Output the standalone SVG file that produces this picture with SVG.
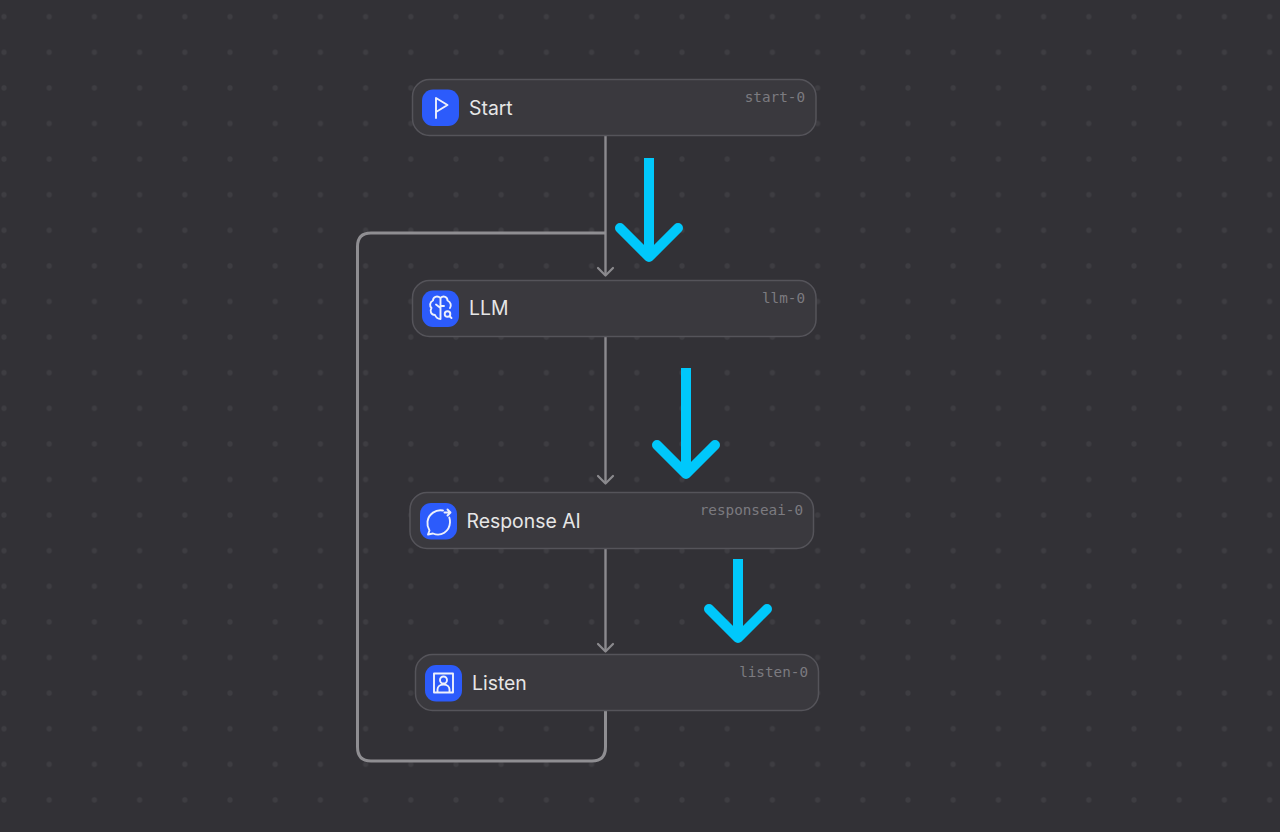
<svg xmlns="http://www.w3.org/2000/svg" width="1280" height="832" viewBox="0 0 1280 832">
<style>
.card{fill:#3a393e;stroke:#55545a;stroke-width:1.5}
.badge{fill:#2c5bfb}
.ico{fill:none;stroke:#eef1fb;stroke-width:1.9;stroke-linecap:round;stroke-linejoin:round}
.t{font-family:Inter,"Liberation Sans",sans-serif;font-size:19.4px;fill:#e6e6e6}
.id{font-family:"DejaVu Sans Mono","Liberation Mono",monospace;font-size:14.3px;fill:#7c7b80;text-anchor:end}
.c{fill:none;stroke:#8b8a8e;stroke-width:2.4;stroke-linejoin:round}
.l{fill:none;stroke:#8f8e92;stroke-width:3;stroke-linejoin:round}
.h{fill:none;stroke:#8b8a8e;stroke-width:2.2;stroke-linecap:round;stroke-linejoin:round}
.b{fill:none;stroke:#00c8fb;stroke-width:10;stroke-linecap:round;stroke-linejoin:round}
.bs{fill:none;stroke:#00c8fb;stroke-width:10}
</style>
<defs>
<pattern id="dots" x="-18.6" y="-1.1" width="45.2" height="35.6" patternUnits="userSpaceOnUse">
<circle cx="22.6" cy="17.8" r="2.6" fill="#3e3d42"/>
</pattern>
</defs>
<rect width="1280" height="832" fill="#323136"/>
<rect width="1280" height="832" fill="url(#dots)"/>
<g id="connectors">
<path class="c" d="M605.500 136V274"/>
<path class="h" d="M598 268L605.500 275.500L613 268"/>
<path class="l" d="M605.500 233H371Q357.500 233 357.500 246.500V747Q357.500 761 371 761H592Q605.500 761 605.500 747V711"/>
<path class="c" d="M605.500 337V483"/>
<path class="h" d="M598 476L605.500 483.500L613 476"/>
<path class="c" d="M605.500 549V651"/>
<path class="h" d="M598 644L605.500 651.500L613 644"/>
</g>
<g id="annotation-arrows">
<path class="bs" d="M649 158V255"/><path class="b" d="M620 228L649 257L678 228"/>
<path class="bs" d="M686 368V472"/><path class="b" d="M657 445L686 474L715 445"/>
<path class="bs" d="M738 559V636"/><path class="b" d="M709 609L738 638L767 609"/>
</g>
<g id="start-0">
<rect class="card" x="412.500" y="79.500" width="403.500" height="56" rx="17"/>
<rect class="badge" x="422" y="89.500" width="37" height="36.500" rx="11"/>
<path class="ico" d="M436 118V98L447.500 105L436 112"/>
<text class="t" x="469" y="114.500">Start</text>
<text class="id" x="805" y="102">start-0</text>
</g>
<g id="llm-0">
<rect class="card" x="412.500" y="280.500" width="403.500" height="56" rx="17"/>
<rect class="badge" x="422" y="290.500" width="37" height="36.500" rx="11"/>
<path class="ico" d="M440.500 298V319M440.500 298C437 295 433 297 433 300.500C429.500 302 429.500 306 431.500 308C429.500 311 431 315 435 315C436.500 318.500 439 319 440.500 319M440.500 298C443.500 295 447.500 297 447.500 300.500C451 302 451.500 306 450 308M440.500 306H444M436 304.500L440.500 308"/>
<circle class="ico" cx="447.500" cy="314" r="2.800"/>
<path class="ico" d="M449.600 316.200L451.500 318"/>
<text class="t" x="469" y="315">LLM</text>
<text class="id" x="805" y="303">llm-0</text>
</g>
<g id="responseai-0">
<rect class="card" x="410" y="492.500" width="403.500" height="56" rx="17"/>
<rect class="badge" x="420" y="503" width="37" height="36.500" rx="11"/>
<path class="ico" d="M443 510.500C436 509 428.500 514 427.500 521.500C427 525 428 528 429.500 530.500L428 534.500L433 533.500C441 537 449.500 531.500 450 522.500C450.100 520.500 449.800 519 449.300 517.500"/>
<path class="ico" d="M444.500 512.500H450M447.500 509.500L450.500 512.500L447.500 515.500"/>
<text class="t" x="466.500" y="527.500">Response AI</text>
<text class="id" x="803" y="515">responseai-0</text>
</g>
<g id="listen-0">
<rect class="card" x="415.500" y="654.500" width="403" height="56" rx="17"/>
<rect class="badge" x="425" y="665" width="37" height="36.500" rx="11"/>
<rect class="ico" x="434" y="673.500" width="19" height="19"/>
<circle class="ico" cx="443.500" cy="680" r="3.500"/>
<path class="ico" d="M437.500 692V689.500C437.500 686.500 440 684.500 443.500 684.500C447 684.500 449.500 686.500 449.500 689.500V692"/>
<text class="t" x="472" y="689.500">Listen</text>
<text class="id" x="808" y="677">listen-0</text>
</g>
</svg>
